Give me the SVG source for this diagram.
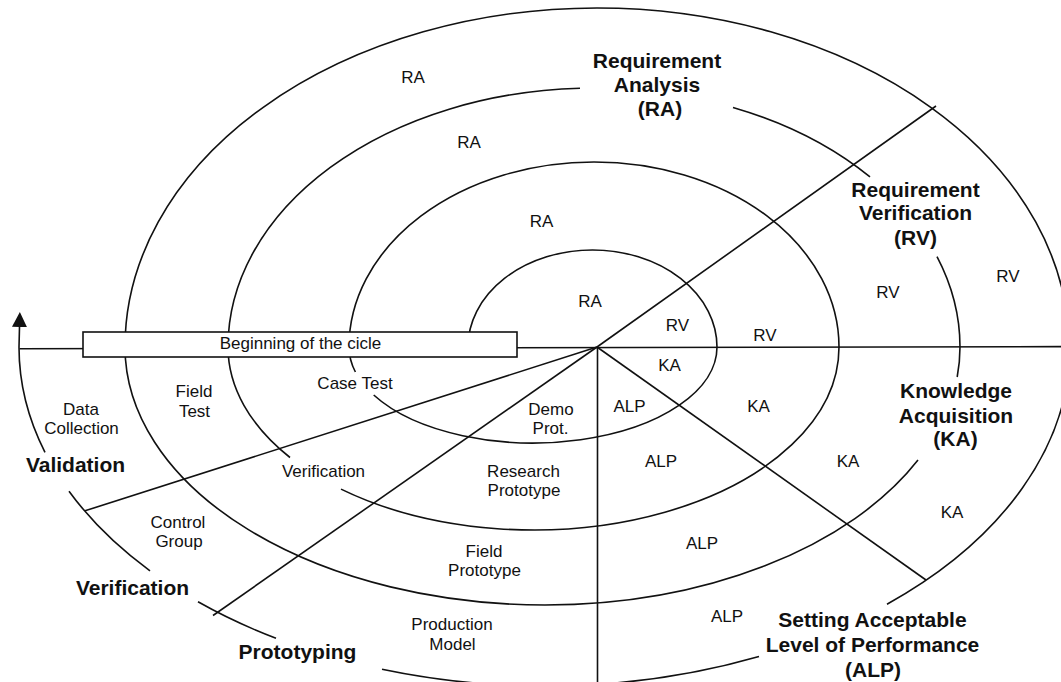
<svg xmlns="http://www.w3.org/2000/svg" width="1061" height="682" viewBox="0 0 1061 682">
<defs>
<style>
.ln{fill:none;stroke:#111;stroke-width:1.6}
.t{font-family:"Liberation Sans",Arial,sans-serif;font-size:17px;fill:#111;text-anchor:middle}
.b{font-family:"Liberation Sans",Arial,sans-serif;font-size:21px;font-weight:bold;fill:#111;text-anchor:middle}
</style>
<marker id="arrow" viewBox="0 0 10 10" refX="0" refY="5" markerWidth="15" markerHeight="15" markerUnits="userSpaceOnUse" orient="auto">
<path d="M0,0 L10,5 L0,10 z" fill="#111"/>
</marker>
</defs>
<rect width="1061" height="682" fill="#fff"/>
<g id="spiral">
<path class="ln" d="M 468 347 A 124.5 97 0 0 1 717 347"/>
<path class="ln" d="M 717 347 A 184 96 0 0 1 373.7 395 M 355.4 372 A 184 96 0 0 1 349 347"/>
<path class="ln" d="M 349 347 A 245 185 0 0 1 839 347"/>
<path class="ln" d="M 839 347 A 305.5 183 0 0 1 341 489.1 M 290 457.5 A 305.5 183 0 0 1 228 347"/>
<path class="ln" d="M 228 347 A 366 259 0 0 1 580 88.2 M 733 107.4 A 366 259 0 0 1 870 176.9 M 937 256.6 A 366 259 0 0 1 960 347"/>
<path class="ln" d="M 960 347 A 415 258 0 0 1 957.2 377 M 918 460.1 A 415 258 0 0 1 545 605 A 420 258 0 0 1 125 347"/>
<path class="ln" d="M 125 347 A 472 339 0 0 1 1069 347"/>
<path class="ln" d="M 1070 347 A 525 339 0 0 1 887 604.2 M 759 656.5 A 525 339 0 0 1 545 686 A 526 339 0 0 1 382 669.3 M 276 638.3 A 526 339 0 0 1 198 601.8 M 150 570.8 A 526 339 0 0 1 69 491.2"/>
<path class="ln" d="M 45 452.3 A 526 339 0 0 1 19 347 L 19.5 327" marker-end="url(#arrow)"/>
</g>
<g id="connectors">
<path class="ln" d="M 19.5 348.8 L 1061 346.6"/>
<path class="ln" d="M 597 347 L 936 106"/>
<path class="ln" d="M 597 347 L 926 580"/>
<path class="ln" d="M 597.5 347 L 597.5 682"/>
<path class="ln" d="M 597 347 L 213 615.5"/>
<path class="ln" d="M 597 347 L 85 510.8"/>
</g>
<g id="start-box">
<rect x="83" y="332" width="434" height="25" fill="#fff" stroke="#111" stroke-width="1.6"/>
<text class="t" x="300.5" y="348.5">Beginning of the cicle</text>
</g>
<g id="phase-RA">
<text class="b" x="657" y="68">Requirement</text>
<text class="b" x="657" y="92">Analysis</text>
<text class="b" x="660" y="116">(RA)</text>
<text class="t" x="413" y="82.5">RA</text>
<text class="t" x="469" y="147.5">RA</text>
<text class="t" x="541.5" y="226.5">RA</text>
<text class="t" x="590" y="306.5">RA</text>
</g>
<g id="phase-RV">
<text class="b" x="915.5" y="196.5">Requirement</text>
<text class="b" x="915.5" y="220">Verification</text>
<text class="b" x="915.5" y="245">(RV)</text>
<text class="t" x="677.5" y="331">RV</text>
<text class="t" x="765" y="341">RV</text>
<text class="t" x="888" y="298">RV</text>
<text class="t" x="1008" y="282">RV</text>
</g>
<g id="phase-KA">
<text class="b" x="956" y="398">Knowledge</text>
<text class="b" x="956" y="423">Acquisition</text>
<text class="b" x="955.5" y="446">(KA)</text>
<text class="t" x="669.5" y="371">KA</text>
<text class="t" x="758.5" y="412">KA</text>
<text class="t" x="848" y="467">KA</text>
<text class="t" x="952" y="518">KA</text>
</g>
<g id="phase-ALP">
<text class="b" x="872.5" y="627">Setting Acceptable</text>
<text class="b" x="872.5" y="652">Level of Performance</text>
<text class="b" x="873" y="676.5">(ALP)</text>
<text class="t" x="629.5" y="411.5">ALP</text>
<text class="t" x="661" y="467">ALP</text>
<text class="t" x="702" y="549">ALP</text>
<text class="t" x="727" y="622">ALP</text>
</g>
<g id="phase-prototyping">
<text class="b" x="297.5" y="659">Prototyping</text>
<text class="t" x="551" y="415">Demo</text>
<text class="t" x="550.5" y="434">Prot.</text>
<text class="t" x="523.5" y="476.5">Research</text>
<text class="t" x="524" y="495.5">Prototype</text>
<text class="t" x="484" y="557">Field</text>
<text class="t" x="484.5" y="576">Prototype</text>
<text class="t" x="452" y="630">Production</text>
<text class="t" x="452.5" y="650">Model</text>
</g>
<g id="phase-verification">
<text class="b" x="132.5" y="595">Verification</text>
<text class="t" x="355" y="389">Case Test</text>
<text class="t" x="323.5" y="477">Verification</text>
<text class="t" x="178" y="528">Control</text>
<text class="t" x="179" y="547">Group</text>
</g>
<g id="phase-validation">
<text class="b" x="75.5" y="472">Validation</text>
<text class="t" x="194" y="397">Field</text>
<text class="t" x="194.5" y="417">Test</text>
<text class="t" x="81" y="415">Data</text>
<text class="t" x="81.5" y="434">Collection</text>
</g>
</svg>
